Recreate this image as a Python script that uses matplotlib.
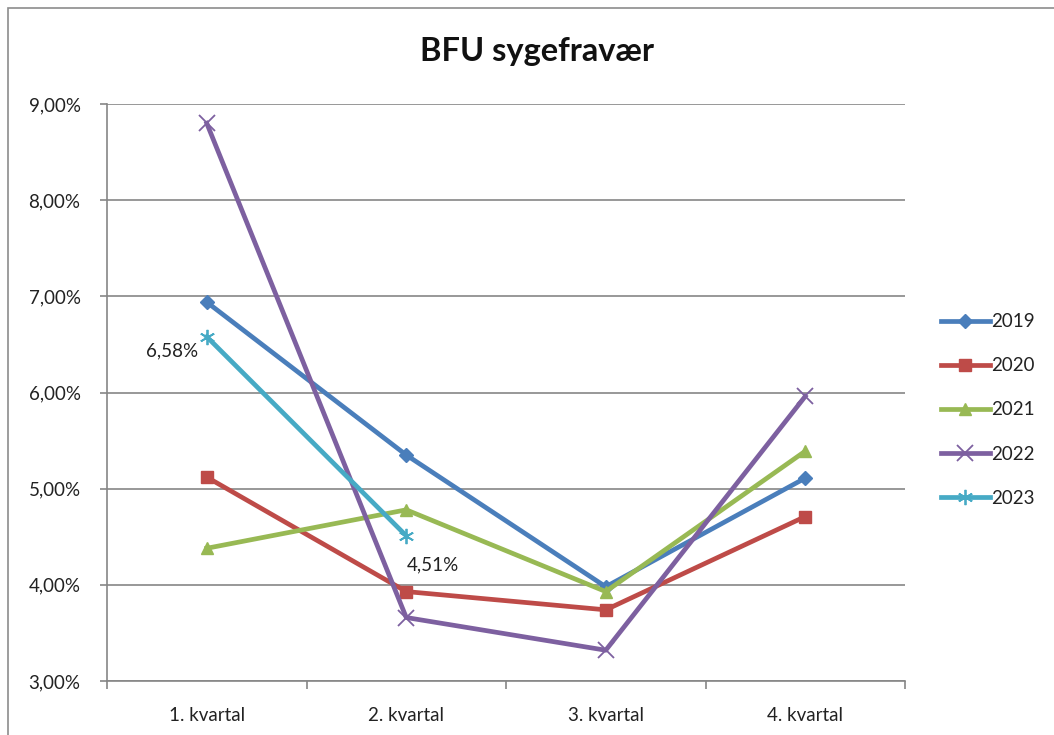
import matplotlib
matplotlib.use("Agg")
import matplotlib.pyplot as plt
from matplotlib.patches import Rectangle
from matplotlib.ticker import FuncFormatter, MultipleLocator

plt.rcParams['font.family'] = ['Lato', 'DejaVu Sans']

categories = ["1. kvartal", "2. kvartal", "3. kvartal", "4. kvartal"]
years = ["2019", "2020", "2021", "2022", "2023"]
v2019 = [6.94, 5.35, 3.98, 5.11]
v2020 = [5.12, 3.93, 3.74, 4.71]
v2021 = [4.38, 4.78, 3.93, 5.39]
v2022 = [8.80, 3.66, 3.32, 5.96]
v2023 = [6.58, 4.51]
series = [v2019, v2020, v2021, v2022, v2023]
colors = ["#4A7EBB", "#BE4B48", "#98B954", "#7D60A0", "#46AAC5"]
markers = ["D", "s", "^", "x", "*"]
msizes = [7, 9, 9, 11, 11]

FS = 13.5

fig = plt.figure(figsize=(10.54, 7.35), dpi=100)
W, H = 1054, 735
fig.patches.append(Rectangle((8 / W, -0.1), 1.2, 1 - 8 / H + 0.1, transform=fig.transFigure,
                             fill=False, edgecolor="#8c8c8c", linewidth=1.2))
ax = fig.add_axes([107 / W, 1 - 681 / H, (905 - 107) / W, (681 - 104) / H])

x = list(range(len(categories)))
for vals, name, c, m, ms in zip(series, years, colors, markers, msizes):
    if m in ("x", "*"):
        ax.plot(x[:len(vals)], vals, color=c, linewidth=3.4, marker="x" if m == "x" else (6, 2, 0),
                markersize=ms, markeredgewidth=1.3, label=name, zorder=3)
    else:
        ax.plot(x[:len(vals)], vals, color=c, linewidth=3.4, marker=m, markersize=ms,
                markeredgecolor=c, label=name, zorder=3)

ax.annotate("6,58%", (0, v2023[0]), xytext=(-25, -10), textcoords="offset points",
            ha="center", va="center", fontsize=FS, color="#222222")
ax.annotate("4,51%", (1, v2023[1]), xytext=(19, -21), textcoords="offset points",
            ha="center", va="center", fontsize=FS, color="#222222")

ax.set_xlim(-0.5, 3.5)
ax.set_ylim(3, 9)
ax.yaxis.set_major_locator(MultipleLocator(1))
ax.yaxis.set_major_formatter(FuncFormatter(lambda v, p: f"{v:.2f}%".replace(".", ",")))
ax.set_xticks(x)
ax.set_xticklabels(categories)
ax.set_xticks([-0.5, 0.5, 1.5, 2.5, 3.5], minor=True)
ax.tick_params(axis="x", which="major", length=0, pad=19, labelsize=FS, labelcolor="#222222")
ax.tick_params(axis="x", which="minor", length=6, width=1.2, color="#868686")
ax.tick_params(axis="y", length=5, width=1.2, color="#868686", labelsize=FS, labelcolor="#222222", pad=14)
ax.grid(axis="y", color="#868686", linewidth=1.2)
ax.set_axisbelow(True)
for s in ["top", "right"]:
    ax.spines[s].set_visible(False)
for s in ["left", "bottom"]:
    ax.spines[s].set_color("#868686")
    ax.spines[s].set_linewidth(1.2)

fig.text(0.5 + 10 / W, 1 - 52 / H, "BFU sygefravær", ha="center", va="center", fontsize=23.5,
         fontweight="bold", color="#111111")

leg = ax.legend(loc="center left", bbox_to_anchor=(924 / W, 1 - 410 / H), bbox_transform=fig.transFigure,
                frameon=False, fontsize=FS, handlelength=2.6, labelspacing=1.45, handletextpad=0.1)
for t in leg.get_texts():
    t.set_color("#222222")

fig.savefig("out.png", dpi=100)
